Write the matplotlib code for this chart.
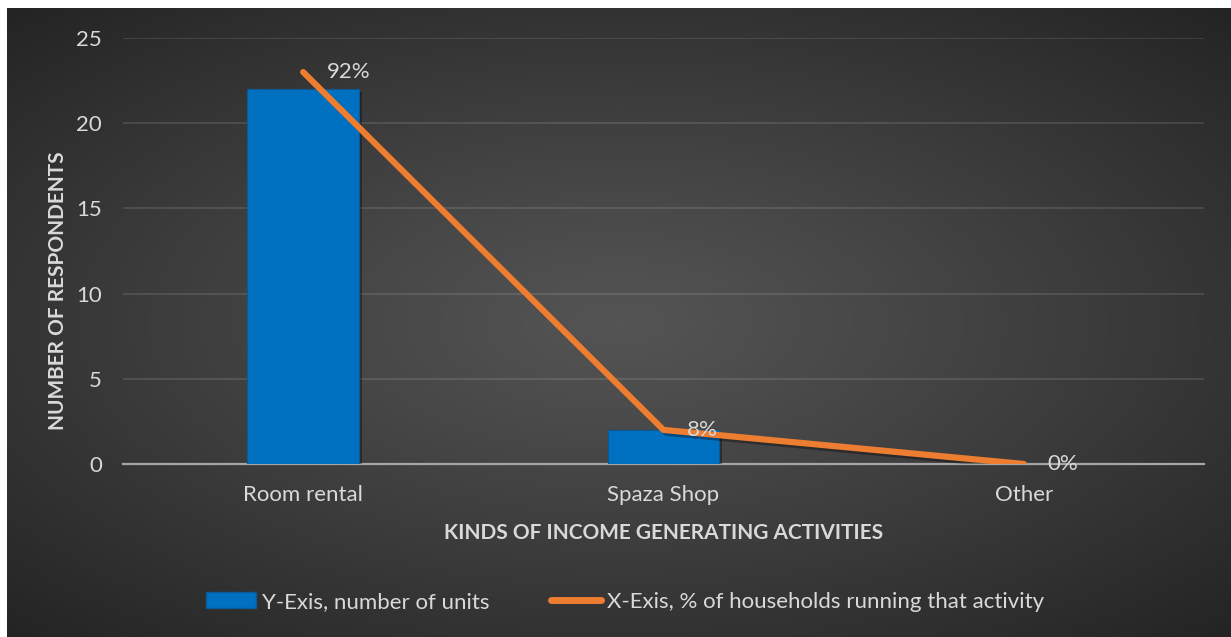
import numpy as np
import matplotlib
matplotlib.use("Agg")
import matplotlib.pyplot as plt
from matplotlib import patheffects as pe
from matplotlib.lines import Line2D
from matplotlib.patches import Patch

# Data
categories = ["Room rental", "Spaza Shop", "Other"]
units = [22, 2, 0]                 # number of respondents per activity
share = [0.92, 0.08, 0.0]          # share of households running the activity
share_labels = ["92%", "8%", "0%"]

bar_name = "Y-Exis, number of units"
line_name = "X-Exis, % of households running that activity"
y_title = "NUMBER OF RESPONDENTS"
x_title = "KINDS OF INCOME GENERATING ACTIVITIES"

BLUE = "#0070c0"
ORANGE = "#ed7d31"
TEXT = "#d9d9d9"

plt.rcParams["font.family"] = ["Lato", "DejaVu Sans"]

W, H = 1231, 637
fig = plt.figure(figsize=(W / 100, H / 100), dpi=100, facecolor="white")

# Radial dark gradient background (white strip on top/left edge)
bg = fig.add_axes([7 / W, 0, 1 - 7 / W, 1 - 8 / H], zorder=-10)
yy, xx = np.mgrid[-1:1:400j, -1:1:800j]
r = np.sqrt((xx / 1.05) ** 2 + (yy / 1.0) ** 2)
r = np.clip(r / 1.35, 0, 1)
c0, c1 = 0.33, 0.145
val = c0 + (c1 - c0) * r ** 1.1
img = np.dstack([val, val, val])
bg.imshow(img, aspect="auto", extent=[0, 1, 0, 1], interpolation="bilinear")
bg.set_axis_off()

ax = fig.add_axes([123 / W, 173 / H, (1204 - 123) / W, (464 - 38) / H])
ax.patch.set_alpha(0)
x = np.arange(len(categories))

shadow = [pe.SimplePatchShadow(offset=(2, -2), shadow_rgbFace="black", alpha=0.35), pe.Normal()]
ax.bar(x, units, width=0.31, color=BLUE, edgecolor="#0a5a96", linewidth=0.8,
       zorder=3, path_effects=shadow)

ax.set_xlim(-0.5, len(categories) - 0.5)
ax.set_ylim(0, 25)
ax.set_yticks(np.arange(0, 26, 5))
ax.set_xticks(x)
ax.set_xticklabels(categories)
ax.grid(axis="y", color="white", alpha=0.13, linewidth=1.2, zorder=0)
ax.set_axisbelow(True)
for s in ["top", "right", "left"]:
    ax.spines[s].set_visible(False)
ax.spines["bottom"].set_color("#a6a6a6")
ax.spines["bottom"].set_linewidth(1.6)
ax.spines["bottom"].set_zorder(2)
ax.tick_params(axis="both", colors=TEXT, labelsize=16, length=0)
ax.tick_params(axis="y", pad=15)
ax.tick_params(axis="x", pad=15)
for t in ax.get_xticklabels() + ax.get_yticklabels():
    t.set_color(TEXT)

# Axis titles
ax.text(-0.06, 0.408, y_title, transform=ax.transAxes, rotation=90, ha="center",
        va="center", color=TEXT, fontsize=15, fontweight="bold")
ax.text(0.5, -0.161, x_title, transform=ax.transAxes, ha="center",
        va="center", color=TEXT, fontsize=15, fontweight="bold")

# Secondary (hidden) axis for the percentage line
ax2 = ax.twinx()
ax2.set_ylim(0, 1)
ax2.set_axis_off()
line_shadow = [pe.SimpleLineShadow(offset=(2, -2), shadow_color="black", alpha=0.35), pe.Normal()]
ax2.plot(x, share, color=ORANGE, linewidth=4.5, solid_capstyle="round",
         solid_joinstyle="round", zorder=4, path_effects=line_shadow)
for xi, v, lab in zip(x, share, share_labels):
    ax2.annotate(lab, (xi, v), xytext=(17, 0), textcoords="offset points",
                 ha="left", va="center", color=TEXT, fontsize=16, zorder=5)

handles = [Patch(facecolor=BLUE, edgecolor="#0a5a96", label=bar_name),
           Line2D([0], [0], color=ORANGE, linewidth=5, solid_capstyle="round", label=line_name)]
fig.legend(handles=handles, loc="center", bbox_to_anchor=(625 / W, 1 - 602 / H), ncol=2,
           frameon=False, fontsize=16, labelcolor=TEXT, columnspacing=2.8,
           handlelength=2.25, handletextpad=0.27)

fig.savefig("out.png", dpi=100, facecolor="white")
